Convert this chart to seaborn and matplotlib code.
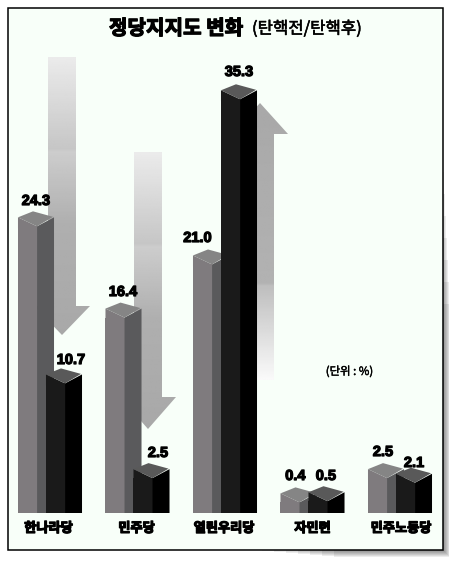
import numpy as np
import pandas as pd
import matplotlib
matplotlib.use('Agg')
import matplotlib.pyplot as plt
import matplotlib.patheffects as pe
from matplotlib.patches import Polygon, Rectangle
import seaborn as sns

parties = ['한나라당', '민주당', '열린우리당', '자민련', '민주노동당']
before = [24.3, 16.4, 21.0, 0.4, 2.5]
after = [10.7, 2.5, 35.3, 0.5, 2.1]
hue_names = ['탄핵전', '탄핵후']

sns.set_theme(style='white')
plt.rcParams['font.family'] = ['Noto Sans CJK KR', 'DejaVu Sans']

W, H = 449, 563
PAPER = '#f8fff9'

df = pd.DataFrame({
    'party': parties * 2,
    'value': before + after,
    'when': [hue_names[0]] * 5 + [hue_names[1]] * 5,
})

fig = plt.figure(figsize=(W / 100, H / 100), dpi=100, facecolor='white')
ax = fig.add_axes([0, 0, 1, 1])

sns.barplot(data=df, x='party', y='value', hue='when', order=parties, hue_order=hue_names,
            palette=['#7f7b7e', '#1a1a1a'], width=0.64, gap=0.32, saturation=1,
            legend=False, ax=ax, zorder=5, edgecolor='none')
bars = list(ax.patches)


# one category = 87.5px, one percent = 11.55px, zero sits 6px above the floor
def X(px):
    return (px - 41.5) / 87.5


def Y(px):
    return (507 - px) / 11.55


dx = 1 / 87.5
dy = 1 / 11.55
floor = Y(513)

# soft shadow, fades out towards the top right and bottom middle
for grow in range(1, 8):
    a = 0.075
    ax.add_patch(Polygon([(X(443), Y(150 + grow * 22)), (X(443 + grow), Y(150 + grow * 22)),
                          (X(443 + grow), Y(550 + grow)), (X(250 + grow * 12), Y(550 + grow)),
                          (X(250 + grow * 12), Y(550)), (X(443), Y(550))],
                         facecolor='black', alpha=a, edgecolor='none', zorder=1))
ax.add_patch(Rectangle((X(7.5), Y(550)), 435.5 * dx, 542 * dy, facecolor=PAPER, edgecolor='black',
                       linewidth=1.1, zorder=2))


# gradient arrows behind the bars
def gradient_arrow(cx, tail_y, head_y, tip_y, stops, shades):
    pts = [(cx - 14, tail_y), (cx - 14, head_y), (cx - 28, head_y), (cx, tip_y),
           (cx + 28, head_y), (cx + 14, head_y), (cx + 14, tail_y)]
    poly = Polygon([(X(a), Y(b)) for a, b in pts], facecolor='none', edgecolor='none')
    ax.add_patch(poly)
    y0, y1 = min(tail_y, tip_y), max(tail_y, tip_y)
    grad = np.interp(np.linspace(0, 1, 256), stops, shades).reshape(-1, 1)
    im = ax.imshow(grad, cmap='gray', vmin=0, vmax=255, aspect='auto', zorder=3,
                   extent=(X(cx - 28), X(cx + 28), Y(y1), Y(y0)), origin='upper')
    im.set_clip_path(poly)


down_stops = [0, 0.33, 0.34, 0.6, 1]
down_shades = [235, 198, 205, 175, 168]
gradient_arrow(62, 57, 306, 335, down_stops, down_shades)
gradient_arrow(148, 152, 397, 429, down_stops, down_shades)
gradient_arrow(260, 380, 134, 103, [0, 0.65, 0.66, 0.8, 1], [168, 178, 190, 215, 250])
ax.set_xlim(X(0), X(W))
ax.set_ylim(Y(H), Y(0))
ax.axis('off')

# stretch the bars down to the floor, then add the side and lid of each box
sides = ['#5a5a5c', '#000000']
lids = ['#858585', '#595959']
for n, bar in enumerate(bars):
    top = bar.get_height()
    which = n // 5
    z = 5 + which * 2
    bar.set_y(floor)
    bar.set_height(top - floor)
    bar.set_zorder(z)
    x0 = bar.get_x()
    x1 = x0 + bar.get_width()
    col = bar.get_facecolor()
    # the front face has a sloped top, overlap the bar a little so no seam shows
    ax.add_patch(Polygon([(x0, top - 2 * dy), (x1, top - 2 * dy), (x1, top), (x0, top + 9 * dy)], facecolor=col,
                         edgecolor='none', zorder=z))
    ax.add_patch(Polygon([(x1, floor), (x1 + 17 * dx, floor), (x1 + 17 * dx, top + 9 * dy), (x1, top)],
                         facecolor=sides[which], edgecolor='none', zorder=z))
    ax.add_patch(Polygon([(x0, top + 9 * dy), (x0 + 15 * dx, top + 15 * dy),
                          (x1 + 16 * dx, top + 9.5 * dy), (x1, top)],
                         facecolor=lids[which], edgecolor='none', zorder=z + 0.5))

heavy = [pe.withStroke(linewidth=0.9, foreground='black')]


def label(px, py, s, size=10.5, **kw):
    ax.text(X(px), Y(py), s, ha='center', va='center', color='black', fontsize=size, fontweight='bold',
            path_effects=heavy, zorder=20, **kw)


for x, s, py in zip([36, 123, 197.5, 295.5, 383], before, [201, 292, 238, 476, 452]):
    label(x, py, f'{s:.1f}', size=10.5, family='Liberation Sans')
for x, s, py in zip([71, 158, 239, 326, 414], after, [360, 453, 72, 476, 463]):
    label(x, py, f'{s:.1f}', size=10.5, family='Liberation Sans')

for x, s in zip([48.5, 136.5, 224, 312.5, 401], parties):
    label(x, 528, s, size=9.5)

label(176, 28, '정당지지도 변화', size=14.5)
ax.text(X(307), Y(29), '(탄핵전/탄핵후)', ha='center', va='center', fontsize=12, color='black',
        path_effects=[pe.withStroke(linewidth=0.4, foreground='black')], zorder=20)
ax.text(X(349.5), Y(371), '(단위 : %)', ha='center', va='center', fontsize=8.2, color='black',
        path_effects=[pe.withStroke(linewidth=0.3, foreground='black')], zorder=20)

fig.savefig('out.png', dpi=100)
